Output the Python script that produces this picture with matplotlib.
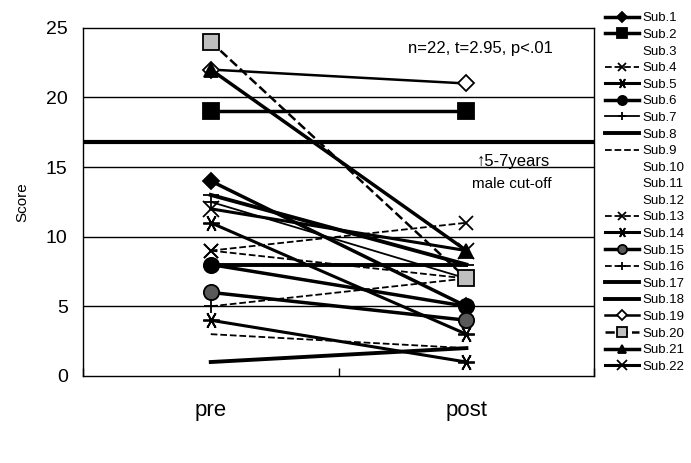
import matplotlib.pyplot as plt
import numpy as np

plt.rcParams['font.family'] = ['Liberation Sans', 'DejaVu Sans']

# pre / post scores (nan = subject not drawn)
subjects = ['Sub.' + str(i + 1) for i in range(22)]
pre_scores = [14, 19, np.nan, 9, 11, 8, 12.5, 8, 3, np.nan, np.nan, np.nan,
              9, 4, 6, 5, 13, 1, 22, 24, 22, 12]
post_scores = [5, 19, np.nan, 11, 3, 5, 7, 8, 2, np.nan, np.nan, np.nan,
               7, 1, 4, 7, 8, 2, 21, 7, 9, 9]
phases = ['pre', 'post']
cutoff = 16.8

star = (6, 2, 90)
# (linestyle, linewidth, marker, markerfacecolor, markersize)
styles = [
    ('-', 2.5, 'D', 'black', 8),
    ('-', 2.5, 's', 'black', 11),
    ('none', 0, 'none', 'none', 0),
    ('--', 1.3, 'x', 'black', 10),
    ('-', 2.2, star, 'black', 12),
    ('-', 2.5, 'o', 'black', 11),
    ('-', 1.3, '+', 'black', 10),
    ('-', 2.8, 'none', 'black', 0),
    ('--', 1.3, 'none', 'black', 0),
    ('none', 0, 'none', 'none', 0),
    ('none', 0, 'none', 'none', 0),
    ('none', 0, 'none', 'none', 0),
    ('--', 1.3, 'x', 'black', 10),
    ('-', 2.2, star, 'black', 12),
    ('-', 2.5, 'o', '0.35', 11),
    ('--', 1.3, '+', 'black', 10),
    ('-', 2.8, '_', 'black', 12),
    ('-', 2.8, 'none', 'black', 0),
    ('-', 1.8, 'D', 'white', 8),
    ('--', 1.8, 's', '0.75', 11),
    ('-', 2.5, '^', 'black', 10),
    ('-', 2.2, 'x', 'black', 11),
]

fig = plt.figure(figsize=(6.91, 4.63), dpi=100)
ax = fig.add_axes([0.120, 0.188, 0.740, 0.752])

x_pos = np.array([0.5, 1.5])

for y in [5, 10, 15, 20]:
    ax.axhline(y, color='black', lw=1.0, zorder=1)
ax.axhline(cutoff, color='black', lw=3.0, zorder=1)

for i in range(len(subjects)):
    ls, lw, mk, mfc, ms = styles[i]
    ax.plot(x_pos, [pre_scores[i], post_scores[i]], linestyle=ls, linewidth=lw,
            marker=mk, markerfacecolor=mfc, markeredgecolor='black',
            markersize=ms, markeredgewidth=1.3, color='black',
            label=subjects[i], zorder=3)

ax.set_xlim(0, 2)
ax.set_ylim(0, 25)
ax.set_yticks([0, 5, 10, 15, 20, 25])
ax.tick_params(axis='y', length=0, labelsize=14, pad=11)
ax.set_xticks([0, 1, 2])
ax.set_xticklabels([])
ax.tick_params(axis='x', which='major', direction='in', length=6, width=1)
ax.set_xticks(x_pos, minor=True)
ax.set_xticklabels(phases, minor=True, fontsize=16)
ax.tick_params(axis='x', which='minor', length=0, pad=17)
ax.set_ylabel('Score', fontsize=11, labelpad=12)

for s in ax.spines.values():
    s.set_linewidth(1.0)

ax.text(1.27, 23.2, 'n=22, t=2.95, p<.01', fontsize=12)
ax.text(1.54, 15.1, '↑5-7years', fontsize=12)
ax.text(1.52, 13.5, 'male cut-off', fontsize=11)

ax.legend(loc='upper left', bbox_to_anchor=(1.01, 1.06), frameon=False,
          fontsize=9.5, handlelength=2.6, handletextpad=0.3,
          labelspacing=0.33, borderaxespad=0, markerscale=0.6)

fig.savefig('out.png', dpi=100)
